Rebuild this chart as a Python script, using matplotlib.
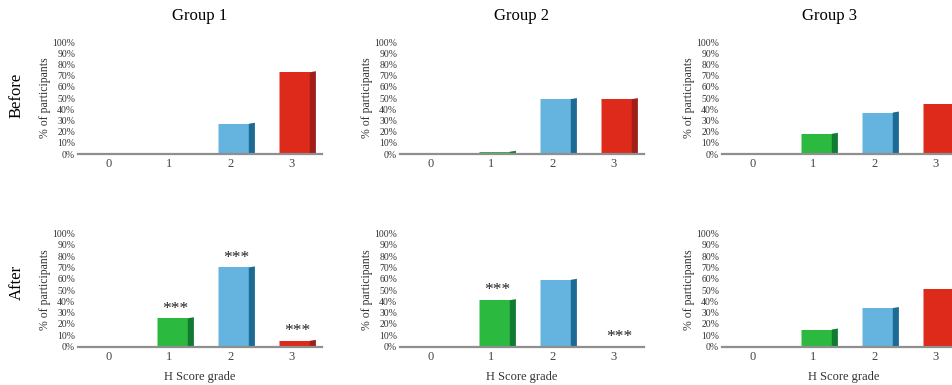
import matplotlib
matplotlib.use("Agg")
import matplotlib.pyplot as plt
import numpy as np

plt.rcParams['font.family'] = ['Liberation Serif', 'DejaVu Serif']

grades = [0, 1, 2, 3]
groups = ["Group 1", "Group 2", "Group 3"]
rows = ["Before", "After"]

# % of participants per H score grade
before_g1 = [0, 0, 27, 73]
before_g2 = [0, 2, 49, 49]
before_g3 = [0, 18, 37, 45]
after_g1 = [0, 25, 70, 5]
after_g2 = [0, 41, 59, 0]
after_g3 = [0, 15, 34, 51]

# significance marks over the after bars
stars_g1 = ["", "***", "***", "***"]
stars_g2 = ["", "***", "", "***"]
stars_g3 = ["", "", "", ""]

front_cols = [None, "#2bb940", "#64b4df", "#dd2a1b"]
side_cols = [None, "#117a33", "#1d6a94", "#a01f19"]

W, H = 953, 385
fig = plt.figure(figsize=(W / 100, H / 100), dpi=100)

lefts = [78, 400, 722]
bottoms = [154, 346.5]
tops = [42, 233.5]
aw = 244

data = [[before_g1, before_g2, before_g3], [after_g1, after_g2, after_g3]]
stars = [stars_g1, stars_g2, stars_g3]


def draw_panel(ax, vals, marks=None, xlabel=False):
    x = np.array(grades, dtype=float)
    for xi, v, fc, sc in zip(x, vals, front_cols, side_cols):
        if v <= 0:
            continue
        ax.bar(xi - 0.21, v, width=0.51, align='edge', color=fc, zorder=2)
        ax.fill([xi + 0.30, xi + 0.30, xi + 0.40, xi + 0.40],
                [0, v, v + 0.9, 0], color=sc, lw=0, zorder=2)
        # thin highlight on the left edge of the front face
        ax.plot([xi - 0.205, xi - 0.205], [0, v], color='white', lw=0.6,
                alpha=0.6, zorder=2.5)
    if marks:
        for xi, v, m in zip(x, vals, marks):
            if m:
                ax.text(xi + 0.095, v + 1.5, m, ha='center', va='bottom',
                        fontsize=12.5, color='#222222')
    ax.set_xlim(-0.5, 3.5)
    ax.set_ylim(0, 100)
    ax.set_xticks(grades)
    ax.set_yticks(np.arange(0, 101, 10))
    ax.set_yticklabels([f"{t}%" for t in range(0, 101, 10)])
    for s in ['top', 'right', 'left']:
        ax.spines[s].set_visible(False)
    ax.spines['bottom'].set_color('#8f8f8f')
    ax.spines['bottom'].set_linewidth(1.6)
    ax.spines['bottom'].set_zorder(3)
    ax.tick_params(axis='y', length=0, pad=2, labelsize=7, labelcolor='#333333')
    ax.tick_params(axis='x', length=0, pad=3, labelsize=9, labelcolor='#444444')
    ax.set_ylabel("% of participants", fontsize=8.5, labelpad=1, color='#333333')
    if xlabel:
        ax.set_xlabel("H Score grade", fontsize=9, labelpad=6, color='#333333')
    ax.patch.set_alpha(0)


for r in range(2):
    for g in range(3):
        ax = fig.add_axes([lefts[g] / W, 1 - bottoms[r] / H, aw / W,
                           (bottoms[r] - tops[r]) / H])
        draw_panel(ax, data[r][g], stars[g] if r == 1 else None, xlabel=(r == 1))

title_x = [200, 522, 830]
for g, name in enumerate(groups):
    fig.text(title_x[g] / W, 1 - 16 / H, name, ha='center', va='center', fontsize=12)

fig.text(17 / W, 1 - 95 / H, rows[0], rotation=90, ha='center', va='center', fontsize=12)
fig.text(17 / W, 1 - 282 / H, rows[1], rotation=90, ha='center', va='center', fontsize=12)

fig.savefig("out.png", dpi=100)
